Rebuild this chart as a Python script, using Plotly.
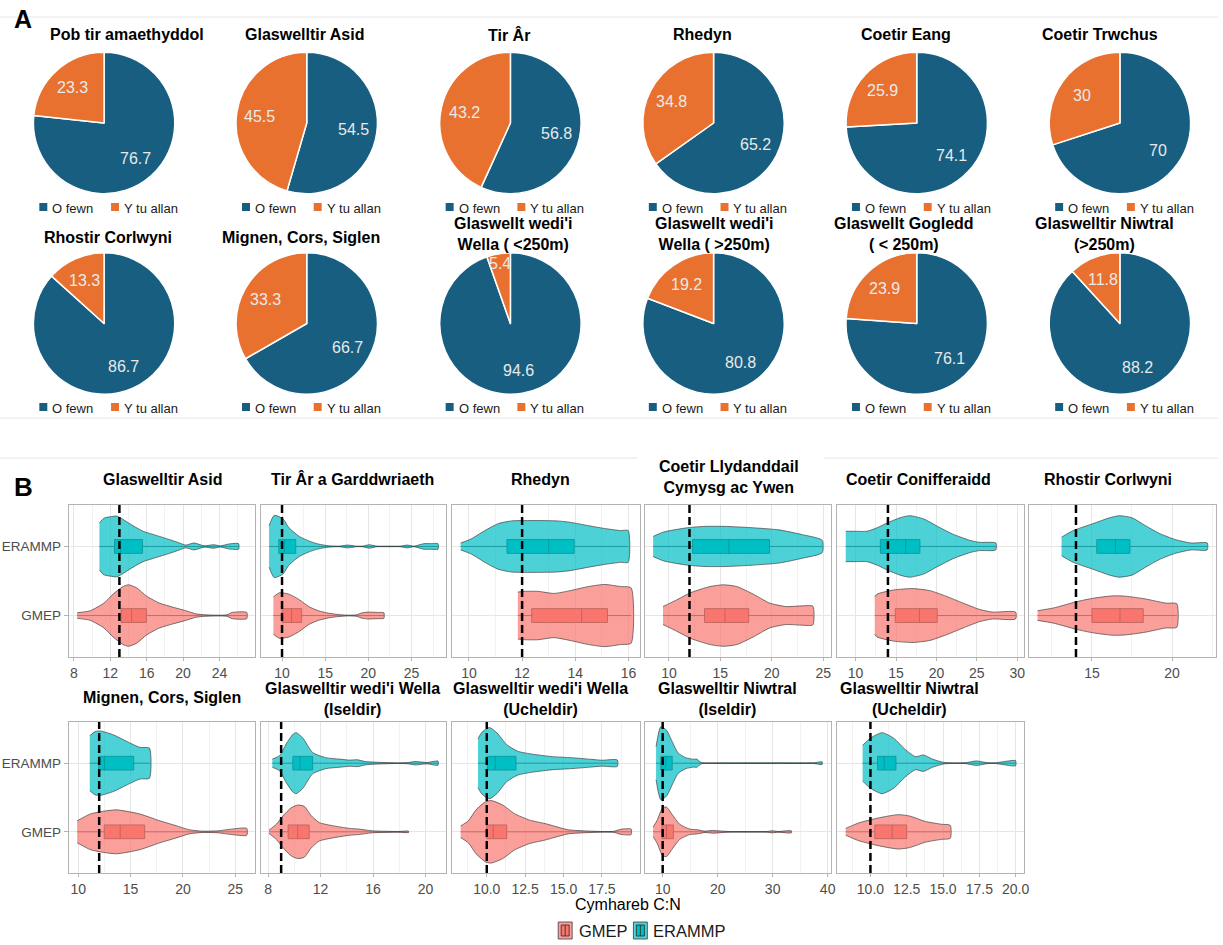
import math
import plotly.graph_objects as go

W, H = 1223, 945
FONT = "Liberation Sans, Arial, Helvetica, sans-serif"

# ---------------- Panel A: share of samples inside / outside the C:N range ----------------
pie_titles = [
    "Pob tir amaethyddol", "Glaswelltir Asid", "Tir Âr", "Rhedyn", "Coetir Eang", "Coetir Trwchus",
    "Rhostir Corlwyni", "Mignen, Cors, Siglen", "Glaswellt wedi'i<br>Wella ( <250m)",
    "Glaswellt wedi'i<br>Wella ( >250m)", "Glaswellt Gogledd<br>( < 250m)", "Glaswelltir Niwtral<br>(>250m)",
]
inside_pct = [76.7, 54.5, 56.8, 65.2, 74.1, 70, 86.7, 66.7, 94.6, 80.8, 76.1, 88.2]
outside_pct = [23.3, 45.5, 43.2, 34.8, 25.9, 30, 13.3, 33.3, 5.4, 19.2, 23.9, 11.8]
pie_legend = ["O fewn", "Y tu allan"]

# ---------------- Panel B: C:N ratio, GMEP vs ERAMMP ----------------
habitats_b = [
    "Glaswelltir Asid", "Tir Âr a Garddwriaeth", "Rhedyn", "Coetir Llydanddail<br>Cymysg ac Ywen",
    "Coetir Conifferaidd", "Rhostir Corlwyni", "Mignen, Cors, Siglen",
    "Glaswelltir wedi'i Wella<br>(Iseldir)", "Glaswelltir wedi'i Wella<br>(Ucheldir)",
    "Glaswelltir Niwtral<br>(Iseldir)", "Glaswelltir Niwtral<br>(Ucheldir)",
]
reference_cn = [13, 10, 12, 12, 14, 14, 12, 9, 10, 10, 10]
surveys = ["GMEP", "ERAMMP"]

# Box statistics (quartiles and median) per habitat
gmep_q1 = [13.18, 10.0, 12.36, 13.46, 14.9, 15.0, 12.48, 9.53, 10.0, 9.86, 10.3]
gmep_median = [14.34, 11.1, 14.24, 15.45, 17.9, 16.75, 14.0, 10.26, 10.42, 10.7, 11.5]
gmep_q3 = [15.97, 12.27, 15.21, 17.76, 20.1, 18.2, 16.35, 11.14, 11.3, 11.95, 12.5]
erammp_q1 = [12.46, 9.62, 11.43, 12.3, 13.06, 15.3, 11.95, 9.89, 10.05, 9.65, 10.49]
erammp_median = [13.14, 10.27, 13.0, 15.83, 16.2, 16.46, 12.5, 10.44, 10.55, 10.56, 10.95]
erammp_q3 = [15.54, 11.59, 13.96, 19.78, 17.96, 17.37, 15.3, 11.4, 11.9, 11.74, 11.76]

# Violin outlines: C:N values along each violin and the density half-width there
gmep_cn = [
    [8.36, 9.8, 11.3, 12.3, 13.4, 14.0, 14.9, 16.0, 17.4, 18.9, 20.3, 21.4, 22.5, 23.9, 24.8, 25.4, 27.0],
    [9.0, 9.7, 10.8, 12.0, 13.1, 14.2, 15.4, 16.5, 17.6, 18.6, 19.3, 20.0, 21.0, 21.8],
    [11.84, 12.1, 12.6, 13.2, 13.8, 14.5, 15.1, 15.7, 16.1],
    [9.42, 10.8, 12.1, 14.0, 15.3, 16.6, 18.2, 19.8, 21.4, 23.0, 24.0],
    [12.37, 12.65, 14.7, 17.1, 19.2, 21.2, 23.3, 25.3, 26.9, 29.8],
    [11.6, 12.6, 14.03, 15.06, 16.3, 17.1, 18.35, 19.6, 20.3],
    [9.9, 11.16, 12.42, 13.68, 15.88, 17.8, 19.34, 20.6, 21.86, 23.4, 24.4, 26.1],
    [8.08, 8.63, 9.13, 9.76, 10.26, 10.77, 11.27, 11.9, 12.9, 14.2, 14.9, 15.9, 17.9, 18.7],
    [8.3, 8.8, 9.3, 9.93, 10.3, 11.04, 11.8, 12.8, 13.8, 14.5, 15.3, 16.75, 18.2, 18.8, 19.4],
    [8.26, 8.95, 10.0, 10.7, 11.74, 13.1, 14.9, 16.3, 17.7, 19.1, 21.9, 29.0, 29.9, 31.0, 33.4],
    [8.3, 9.2, 10.5, 11.9, 12.7, 13.8, 14.9, 15.5],
]
gmep_density = [
    [0.04, 0.07, 0.18, 0.31, 0.42, 0.445, 0.40, 0.28, 0.18, 0.12, 0.07, 0.025, 0.01, 0.005, 0.01, 0.045, 0.045],
    [0.27, 0.33, 0.31, 0.23, 0.13, 0.07, 0.034, 0.015, 0.005, 0.01, 0.04, 0.05, 0.045, 0.04],
    [0.34, 0.35, 0.35, 0.32, 0.36, 0.42, 0.45, 0.42, 0.40],
    [0.13, 0.23, 0.33, 0.42, 0.445, 0.42, 0.31, 0.18, 0.13, 0.14, 0.135],
    [0.27, 0.31, 0.37, 0.39, 0.36, 0.28, 0.18, 0.09, 0.05, 0.05],
    [0.07, 0.11, 0.20, 0.25, 0.285, 0.28, 0.24, 0.18, 0.17],
    [0.16, 0.26, 0.30, 0.32, 0.26, 0.16, 0.09, 0.03, 0.01, 0.015, 0.035, 0.05],
    [0.025, 0.11, 0.23, 0.35, 0.39, 0.37, 0.24, 0.135, 0.09, 0.05, 0.04, 0.015, 0.005, 0.01],
    [0.085, 0.16, 0.32, 0.44, 0.455, 0.39, 0.265, 0.17, 0.12, 0.076, 0.03, 0.01, 0.005, 0.04, 0.04],
    [0.07, 0.16, 0.35, 0.36, 0.25, 0.11, 0.04, 0.03, 0.01, 0.02, 0.005, 0.005, 0.015, 0.005, 0.015],
    [0.05, 0.13, 0.20, 0.25, 0.23, 0.15, 0.11, 0.095],
]
erammp_cn = [
    [10.8, 11.3, 12.0, 12.7, 13.1, 14.5, 15.6, 17.05, 18.5, 19.6, 20.3, 21.2, 22.3, 23.4, 24.1, 25.0, 26.1],
    [8.5, 9.1, 10.1, 10.8, 12.0, 13.1, 14.2, 15.4, 16.6, 17.6, 18.6, 19.3, 20.1, 21.0, 22.5, 23.7, 24.5,
     25.3, 26.4, 27.2, 28.07],
    [9.69, 10.09, 10.6, 11.1, 11.6, 12.1, 12.6, 13.3, 13.8, 14.5, 15.1, 15.7, 15.99],
    [8.46, 9.5, 11.76, 13.37, 15.6, 18.2, 20.7, 23.0, 24.9],
    [8.78, 9.8, 11.4, 12.65, 13.9, 15.5, 16.7, 18.4, 20.0, 22.0, 24.1, 25.3, 27.35],
    [13.1, 13.83, 15.06, 16.1, 16.7, 17.5, 18.35, 19.2, 20.2, 21.2, 22.2],
    [11.1, 11.6, 12.1, 13.4, 14.6, 15.9, 16.8],
    [8.33, 8.88, 9.38, 9.89, 10.14, 10.64, 11.4, 12.4, 13.4, 14.2, 14.8, 15.4, 16.7, 18.0, 18.7, 19.2,
     20.1, 20.95],
    [9.43, 9.68, 10.17, 10.67, 11.3, 12.0, 13.0, 14.3, 15.5, 16.75, 17.5, 18.5],
    [8.8, 9.65, 10.7, 11.7, 12.8, 14.2, 15.6, 16.2, 17.0, 21.2, 31.6, 37.5, 39.0],
    [9.46, 10.0, 10.8, 11.6, 12.4, 13.1, 13.65, 14.3, 15.1, 16.5, 17.3, 18.1, 18.6, 19.6, 20.0],
]
erammp_density = [
    [0.34, 0.41, 0.43, 0.44, 0.415, 0.30, 0.22, 0.16, 0.10, 0.05, 0.02, 0.05, 0.01, 0.025, 0.008, 0.035, 0.04],
    [0.30, 0.45, 0.40, 0.27, 0.145, 0.08, 0.035, 0.01, 0.004, 0.02, 0.004, 0.004, 0.025, 0.004, 0.004,
     0.004, 0.02, 0.004, 0.04, 0.04, 0.04],
    [0.05, 0.11, 0.23, 0.33, 0.37, 0.375, 0.375, 0.37, 0.35, 0.30, 0.26, 0.23, 0.23],
    [0.145, 0.21, 0.27, 0.29, 0.29, 0.27, 0.24, 0.17, 0.09],
    [0.22, 0.22, 0.22, 0.27, 0.34, 0.415, 0.445, 0.40, 0.30, 0.18, 0.09, 0.06, 0.05],
    [0.135, 0.23, 0.33, 0.415, 0.445, 0.415, 0.30, 0.19, 0.10, 0.05, 0.05],
    [0.40, 0.46, 0.47, 0.41, 0.32, 0.23, 0.22],
    [0.06, 0.11, 0.28, 0.42, 0.445, 0.37, 0.155, 0.08, 0.06, 0.045, 0.05, 0.025, 0.01, 0.004, 0.01, 0.025,
     0.01, 0.03],
    [0.355, 0.45, 0.52, 0.44, 0.27, 0.175, 0.13, 0.095, 0.08, 0.057, 0.043, 0.047],
    [0.24, 0.53, 0.48, 0.32, 0.15, 0.08, 0.057, 0.06, 0.01, 0.005, 0.005, 0.005, 0.02],
    [0.26, 0.365, 0.445, 0.365, 0.20, 0.095, 0.12, 0.057, 0.01, 0.005, 0.033, 0.005, 0.005, 0.035, 0.038],
]

# ---------------- styling / layout constants ----------------
BLUE, ORANGE = "#175E80", "#E8712F"
TEAL, SALMON = "#00BFC4", "#F8766D"
TEAL_A, SALMON_A = "rgba(0,191,196,0.7)", "rgba(248,118,109,0.7)"
GRID, GRID_MINOR, BORDER = "#e6e6e6", "#f2f2f2", "#b3b3b3"

pie_cx = [104.5, 308, 512.5, 716.5, 920.5, 1124.5]
pie_cy = [123, 323.5]
pie_r = 71
pie_title_x = [127.5, 306, 511, 705, 910, 1105, 108.7, 302, 516, 717, 908, 1108.6]
pie_legend_y = [207, 407]

col_px = [(69, 256.3), (261.7, 448.3), (454, 642.3), (647.3, 834), (840.7, 1028.3), (1033.3, 1220.7)]
row_px = [(505, 657), (722, 873)]
x_dtick = [4, 5, 2, 5, 5, 5, 5, 4, 2.5, 10, 2.5]
x_fmt = ["", "", "", "", "", "", "", "", ".1f", "", ".1f"]
b_title_x = [163, 354, 542.5, 732, 922, 1112.6, 163, 353.5, 543, 730.6, 913]


def fx(p):
    return p / W


def fy(p):
    return 1 - p / H


def note(x, y, text, size, color="black", anchor="center"):
    return dict(x=fx(x), y=fy(y), xref="paper", yref="paper", text=text, showarrow=False,
                xanchor=anchor, yanchor="middle", font=dict(size=size, color=color, family=FONT))


fig = go.Figure()
annotations = []
shapes = []

# ---------------- Panel A ----------------
annotations.append(note(12, 19, "<b>A</b>", 25, anchor="left"))
for i in range(12):
    row, col = divmod(i, 6)
    cx, cy = pie_cx[col], pie_cy[row]
    fig.add_trace(go.Pie(
        values=[inside_pct[i], outside_pct[i]], labels=pie_legend, sort=False,
        direction="clockwise", rotation=0, textinfo="none", hoverinfo="label+value",
        marker=dict(colors=[BLUE, ORANGE], line=dict(color="white", width=1.5)),
        domain=dict(x=[fx(cx - pie_r), fx(cx + pie_r)], y=[fy(cy + pie_r), fy(cy - pie_r)]),
        showlegend=False,
    ))
    # slice value labels placed along each slice bisector
    start = 0.0
    for val in (inside_pct[i], outside_pct[i]):
        mid = (start + val / 2) / 100 * 2 * math.pi
        start += val
        rf = 0.67 if val >= 8 else 0.86
        tx = cx + rf * pie_r * math.sin(mid)
        ty = cy - rf * pie_r * math.cos(mid)
        annotations.append(note(tx, ty, f"{val:g}", 16, color="#e9e9e9"))
    # title
    if row == 0:
        ty = 35
    else:
        ty = 234.5 if "<br>" in pie_titles[i] else 238
    annotations.append(note(pie_title_x[i], ty, f"<b>{pie_titles[i]}</b>", 16))
    # legend under the pie
    ly = pie_legend_y[row]
    for off, colr, lab, toff in ((-65, BLUE, pie_legend[0], -54), (7, ORANGE, pie_legend[1], 18)):
        shapes.append(dict(type="rect", xref="paper", yref="paper", x0=fx(cx + off), x1=fx(cx + off + 8),
                           y0=fy(ly + 4), y1=fy(ly - 4), fillcolor=colr, line=dict(width=0)))
        annotations.append(note(cx + toff, ly + 1, lab, 13, color="#1a1a1a", anchor="left"))

# faint frame lines
for yy, x0, x1 in ((17, 0, 1223), (418, 0, 1223), (458, 0, 640), (458, 827, 1223)):
    shapes.append(dict(type="line", xref="paper", yref="paper", x0=fx(x0), x1=fx(x1), y0=fy(yy), y1=fy(yy),
                       line=dict(color="#e8e8e8", width=1.2)))

# ---------------- Panel B ----------------
annotations.append(note(12, 487, "<b>B</b>", 26, anchor="left"))

layout_axes = {}
for k in range(11):
    row, col = (0, k) if k < 6 else (1, k - 6)
    ax = "" if k == 0 else str(k + 1)
    xa, ya = "x" + ax, "y" + ax
    x0p, x1p = col_px[col]
    y0p, y1p = row_px[row]

    lo = min(min(gmep_cn[k]), min(erammp_cn[k]))
    hi = max(max(gmep_cn[k]), max(erammp_cn[k]))
    pad = 0.05 * (hi - lo)

    layout_axes["xaxis" + ax] = dict(
        domain=[fx(x0p), fx(x1p)], range=[lo - pad, hi + pad], anchor=ya,
        tickmode="linear", tick0=0, dtick=x_dtick[k], tickformat=x_fmt[k],
        showgrid=True, gridcolor=GRID, gridwidth=0.8, zeroline=False,
        minor=dict(dtick=x_dtick[k] / 2, tick0=0, showgrid=True, gridcolor=GRID_MINOR, gridwidth=0.6),
        showline=True, mirror=True, linecolor=BORDER, linewidth=1.2,
        ticks="outside", ticklen=3, tickcolor=BORDER,
        tickfont=dict(size=14, color="#4d4d4d", family=FONT),
    )
    layout_axes["yaxis" + ax] = dict(
        domain=[fy(y1p), fy(y0p)], range=[0.4, 2.6], anchor=xa,
        tickmode="array", tickvals=[1, 2], ticktext=surveys,
        showticklabels=(col == 0), ticks="outside" if col == 0 else "", ticklen=4, tickcolor=BORDER,
        showgrid=True, gridcolor=GRID, gridwidth=0.8, zeroline=False,
        showline=True, mirror=True, linecolor=BORDER, linewidth=1.2,
        tickfont=dict(size=13.5, color="#4d4d4d", family=FONT),
    )

    groups = (
        (1, gmep_cn[k], gmep_density[k], SALMON_A, SALMON, gmep_q1[k], gmep_median[k], gmep_q3[k]),
        (2, erammp_cn[k], erammp_density[k], TEAL_A, TEAL, erammp_q1[k], erammp_median[k], erammp_q3[k]),
    )
    for pos, vals, dens, vfill, bfill, q1, med, q3 in groups:
        xs = list(vals) + list(vals[::-1])
        ys = [pos + d for d in dens] + [pos - d for d in dens[::-1]]
        fig.add_trace(go.Scatter(
            x=xs, y=ys, mode="lines", fill="toself", fillcolor=vfill,
            line=dict(color="rgba(60,60,60,0.75)", width=0.9, shape="spline", smoothing=0.6),
            hoverinfo="skip", showlegend=False, xaxis=xa, yaxis=ya,
        ))
        fig.add_trace(go.Box(
            orientation="h", y=[pos], q1=[q1], median=[med], q3=[q3],
            lowerfence=[min(vals)], upperfence=[max(vals)], width=0.2, whiskerwidth=0,
            boxpoints=False, fillcolor=bfill, line=dict(color="rgba(40,40,40,0.8)", width=1),
            showlegend=False, xaxis=xa, yaxis=ya,
        ))

    shapes.append(dict(type="line", xref=xa, yref=ya + " domain", x0=reference_cn[k], x1=reference_cn[k],
                       y0=0, y1=1, line=dict(color="black", width=2.5, dash="8px,4px"), layer="above"))

    if row == 0:
        ty = 477 if "<br>" in habitats_b[k] else 479
    else:
        ty = 699 if "<br>" in habitats_b[k] else 697
    annotations.append(note(b_title_x[k], ty, f"<b>{habitats_b[k]}</b>", 16))

# axis title
annotations.append(note(631, 904, "Cymhareb C:N", 16))

# survey legend
for kx, tx, lab, lite, full in ((560.5, 579.5, surveys[0], SALMON_A, SALMON),
                                (636, 653.5, surveys[1], TEAL_A, TEAL)):
    shapes.append(dict(type="rect", xref="paper", yref="paper", x0=fx(kx), x1=fx(kx + 14),
                       y0=fy(939), y1=fy(922), fillcolor=lite, line=dict(color="rgba(60,60,60,0.8)", width=1)))
    shapes.append(dict(type="rect", xref="paper", yref="paper", x0=fx(kx + 3), x1=fx(kx + 11),
                       y0=fy(936), y1=fy(925), fillcolor=full, line=dict(color="rgba(40,40,40,0.8)", width=1)))
    shapes.append(dict(type="line", xref="paper", yref="paper", x0=fx(kx + 7), x1=fx(kx + 7),
                       y0=fy(936), y1=fy(925), line=dict(color="rgba(40,40,40,0.8)", width=1)))
    annotations.append(note(tx, 931, lab, 16.5, color="#1a1a1a", anchor="left"))

fig.update_layout(
    width=W, height=H, autosize=False,
    margin=dict(l=0, r=0, t=0, b=0, pad=0),
    paper_bgcolor="white", plot_bgcolor="white",
    font=dict(family=FONT),
    annotations=annotations, shapes=shapes,
    **layout_axes,
)

fig.write_html("out.html")
